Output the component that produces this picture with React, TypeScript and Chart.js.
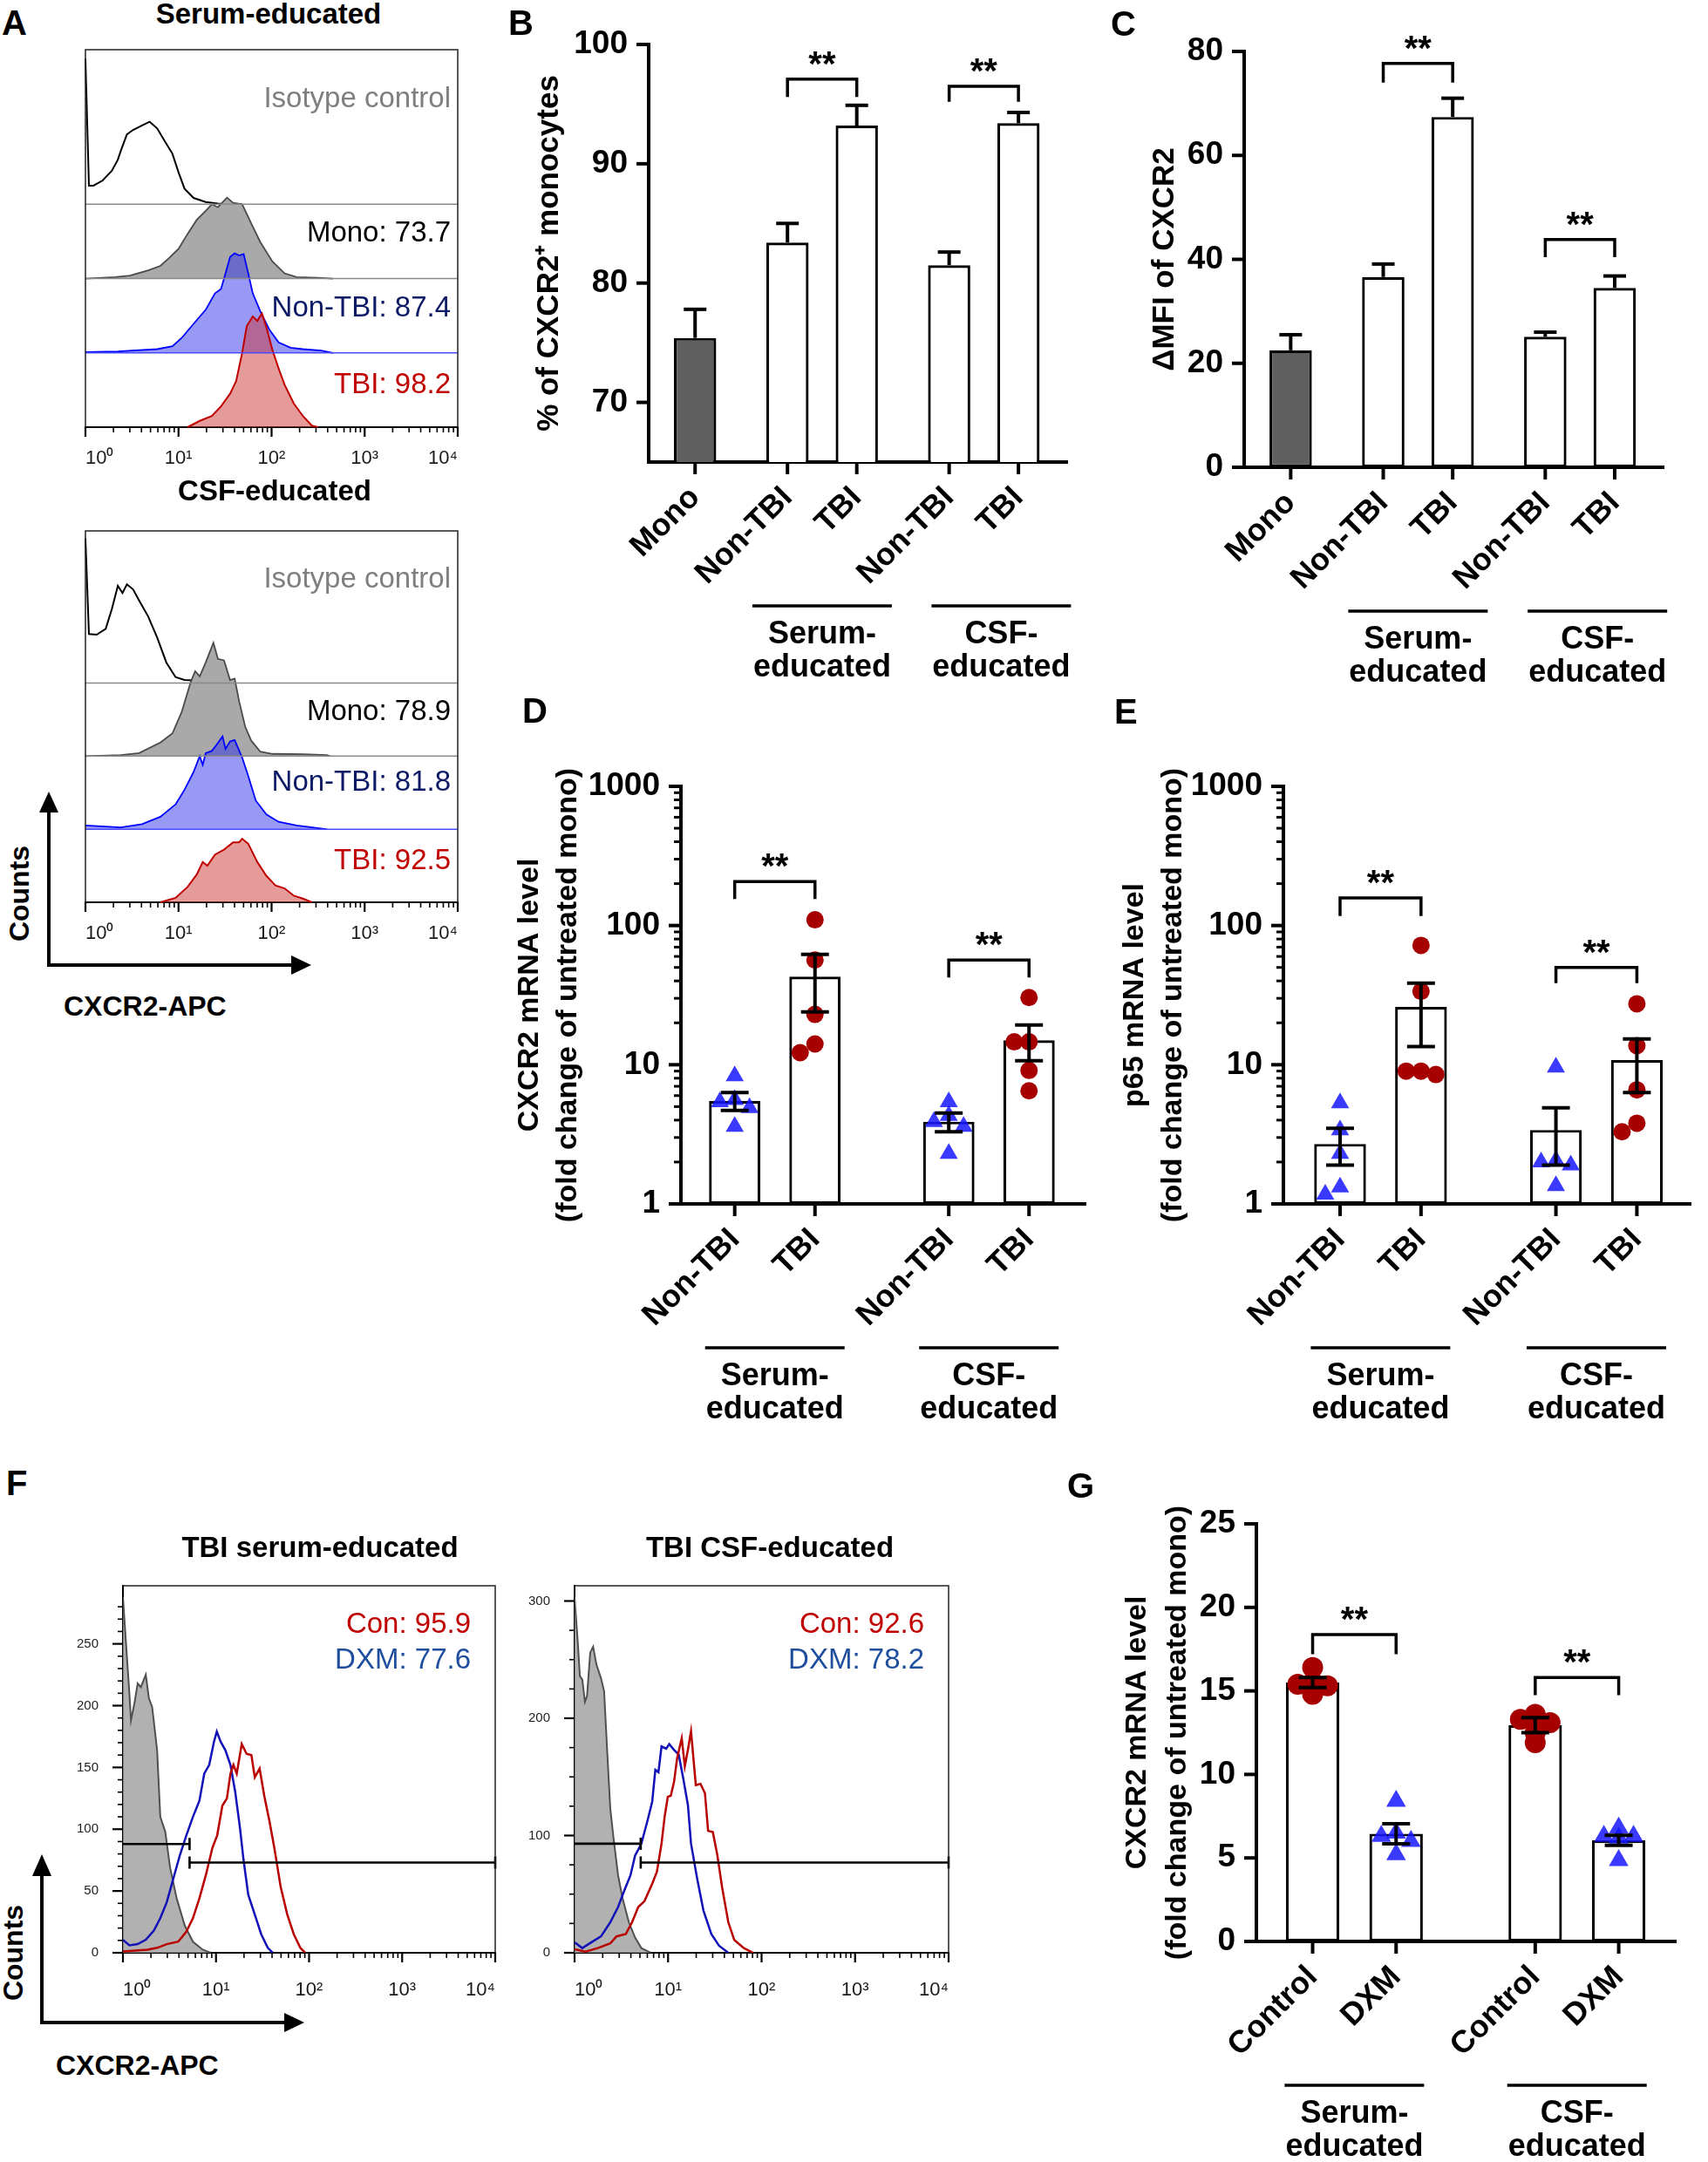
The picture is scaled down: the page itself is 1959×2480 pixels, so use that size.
import React, { useEffect, useRef } from 'react';
import { Chart, registerables } from 'chart.js';

Chart.register(...registerables);

const FONT = "'Liberation Sans', Arial, Helvetica, sans-serif";
Chart.defaults.font.family = FONT;
Chart.defaults.color = '#000';

// ======================= DATA =======================
// Flow axis (CXCR2-APC intensity, log)
const flowTickValues = [1, 2, 3, 4, 5, 6, 7, 8, 9, 10, 20, 30, 40, 50, 60, 70, 80, 90, 100, 200, 300, 400, 500, 600, 700, 800, 900, 1000, 2000, 3000, 4000, 5000, 6000, 7000, 8000, 9000, 10000];
const flowDecades = [1, 10, 100, 1000, 10000];
const flowTickLabels = ['10⁰', '10¹', '10²', '10³', '10⁴'];

// Panel A – serum-educated histograms (counts as % of one row height)
const aSerumIsoX = [1, 1.09, 1.22, 1.53, 1.92, 2.23, 2.4, 2.79, 3.25, 4.06, 4.9, 5.9, 7.1, 8.6, 10, 11.6, 14.5, 19.6, 26.5, 48];
const aSerumIsoY = [196, 25, 25, 32, 45, 60, 72, 94, 100, 106, 111, 102, 85, 68, 43, 21, 8.5, 3, 1, 0];
const aSerumMonoX = [1, 2.07, 3.01, 4.72, 6.38, 7.98, 10, 12.5, 15.7, 19.6, 22.8, 26.5, 33.2, 38.6, 48.3, 60.5, 75.7, 102, 138, 186, 315, 458];
const aSerumMonoY = [0, 2, 4, 11, 17, 28, 40, 60, 79, 91, 100, 96, 109, 102, 100, 74, 49, 23, 7, 2, 1, 0];
const aSerumNonX = [1, 2.23, 5.9, 8.6, 10.8, 14.5, 19.6, 24.6, 28.6, 32, 35.8, 40.1, 44.8, 50.1, 56.1, 62.8, 75.7, 94.9, 119, 160, 217, 340, 458];
const aSerumNonY = [1, 2, 5, 9, 20, 39, 58, 80, 86, 107, 129, 134, 131, 133, 107, 80, 56, 31, 14, 7, 5, 3, 0];
const aSerumTbiX = [12.5, 16.9, 22.8, 28.6, 35.8, 41.6, 48.3, 54.1, 62.8, 70.3, 78.7, 88.1, 102, 119, 138, 173, 217, 271, 315];
const aSerumTbiY = [0, 8.5, 15, 28, 45, 62, 100, 136, 149, 143, 153, 134, 104, 79, 57, 32, 15, 2, 0];
const aSerumLabels = ['Isotype control', 'Mono: 73.7', 'Non-TBI: 87.4', 'TBI: 98.2'];

// Panel A – CSF-educated histograms
const aCsfIsoX = [1, 1.09, 1.32, 1.65, 1.92, 2.23, 2.5, 2.79, 3.25, 3.77, 4.72, 5.9, 7.4, 9.3, 11.6, 19.6, 35.8];
const aCsfIsoY = [198, 67, 66, 74, 101, 133, 123, 135, 128, 113, 91, 62, 28, 8, 4, 3, 0];
const aCsfMonoX = [1, 2.4, 3.77, 6.38, 8.6, 10.8, 13.5, 15.1, 16.9, 19.6, 23.7, 26.5, 30.8, 35.8, 40.1, 44.8, 52.1, 60.5, 75.7, 102, 217, 394, 425];
const aCsfMonoY = [0, 1.5, 4, 18.5, 31, 60, 101, 116, 109, 128, 155, 133, 131, 104, 106, 75, 40, 21, 6, 3, 2.5, 1.5, 0];
const aCsfNonX = [1, 2.4, 4.06, 6.38, 9.3, 11.6, 14.5, 16.9, 18.2, 19.6, 22.8, 25.5, 29.7, 32, 35.8, 40.1, 48.3, 56.1, 67.7, 88.1, 119, 186, 340, 394];
const aCsfNonY = [5, 2.4, 7, 17, 34, 54, 78, 100, 88, 104, 107, 115, 127, 110, 120, 122, 98, 73, 39, 20, 10, 5, 1, 0];
const aCsfTbiX = [6.38, 9.3, 12.5, 15.7, 18.2, 20.4, 24.6, 30.8, 38.6, 44.8, 48.3, 56.1, 70.3, 88.1, 110, 138, 173, 217, 271];
const aCsfTbiY = [0, 6, 21, 38, 55, 50, 65, 72, 82, 82, 87, 80, 55, 36, 23, 19, 9, 5, 0];
const aCsfLabels = ['Isotype control', 'Mono: 78.9', 'Non-TBI: 81.8', 'TBI: 92.5'];

// Panel B – % of CXCR2+ monocytes
const bCategories = ['Mono', 'Non-TBI', 'TBI', 'Non-TBI', 'TBI'];
const bGroups = [0, 1, 1, 2, 2];
const bMeans = [75.4, 83.4, 93.2, 81.5, 93.4];
const bSem = [2.4, 1.6, 1.7, 1.1, 0.9];
const bYTicks = [70, 80, 90, 100];
const bSigPairs = [[1, 2], [3, 4]];
const bSigTop = [97.1, 96.5];
const bSigEnd = [95.6, 95.2];

// Panel C – ΔMFI of CXCR2
const cMeans = [22.5, 36.6, 67.4, 25.1, 34.5];
const cSem = [3.0, 2.5, 3.6, 0.9, 2.3];
const cYTicks = [0, 20, 40, 60, 80];
const cSigTop = [77.7, 43.8];
const cSigEnd = [74.0, 40.4];

// Panels D/E shared
const tbiCategories = ['Non-TBI', 'TBI', 'Non-TBI', 'TBI'];
const pairGroups = [0, 0, 1, 1];
const pairSigPairs = [[0, 1], [2, 3]];
const logTicks = [1, 2, 3, 4, 5, 6, 7, 8, 9, 10, 20, 30, 40, 50, 60, 70, 80, 90, 100, 200, 300, 400, 500, 600, 700, 800, 900, 1000];
const logLabeled = [1, 10, 100, 1000];

// Panel D – CXCR2 mRNA
const dMeans = [5.5, 43, 3.9, 15.0];
const dSem = [0.8, 19, 0.6, 4.3];
const dPoints = [[8.3, 5.6, 5.4, 3.6, 4.9], [110, 56.5, 23, 14.1, 12.2], [5.4, 4.3, 3.9, 3.6, 2.3], [30.4, 14.6, 14.6, 9.1, 6.5]];
const dSigTop = [207, 56.5];
const dSigEnd = [155, 42.4];

// Panel E – p65 mRNA
const eMeans = [2.7, 26, 3.4, 10.8];
const eSem = [0.8, 12.5, 1.5, 4.5];
const ePoints = [[5.3, 3.4, 2.3, 1.32, 1.17], [72, 33.7, 9.0, 9.0, 8.5], [9.6, 2.05, 2.0, 1.9, 1.35], [27.4, 13.7, 6.6, 3.8, 3.3]];
const eSigTop = [158, 50];
const eSigEnd = [117, 38.6];

// Panel F – TBI-educated, control vs DXM
const fSerumGrayX = [1, 1.08, 1.175, 1.22, 1.33, 1.44, 1.56, 1.76, 1.9, 2.06, 2.33, 2.52, 2.85, 3.21, 3.78, 4.62, 5.65, 7.19, 8.79];
const fSerumGrayY = [288, 250, 209, 188, 202, 218, 215, 225, 206, 199, 164, 110, 98, 69, 44, 22, 9, 2.5, 0];
const fSerumBlueX = [1, 1.175, 1.44, 1.76, 2.15, 2.52, 2.96, 3.48, 4.09, 4.8, 5.65, 6.63, 7.48, 8.45, 9.53, 10.2, 11.2, 12.6, 14.3, 16.1, 18.1, 19.7, 22.2, 26.1, 30.6, 36, 40.6];
const fSerumBlueY = [10.5, 6, 7, 10.5, 18, 28, 41, 60, 79, 95, 110, 123, 145, 152, 171, 179, 171, 164, 152, 130, 101, 76, 47, 31, 15, 4, 0];
const fSerumRedX = [1, 1.83, 2.33, 2.96, 3.93, 4.8, 5.65, 6.63, 7.79, 9.15, 10.3, 11.7, 13.1, 14.3, 15.4, 16.7, 18.9, 21.3, 24, 26.1, 29.4, 33.2, 37.4, 42.3, 49.6, 58.3, 68.5, 80.5, 90.8];
const fSerumRedY = [1, 2.5, 4, 7, 9, 17, 28, 44, 63, 85, 95, 119, 125, 145, 152, 145, 169, 161, 160, 142, 149, 126, 107, 85, 53, 31, 15, 4, 0];
const fSerumGateX = [1, 5.2, 10000];
const fSerumGateY = [88, 73];
const fSerumLabels = ['Con: 95.9', 'DXM: 77.6'];

const fCsfGrayX = [1, 1.08, 1.14, 1.21, 1.29, 1.36, 1.47, 1.58, 1.71, 1.92, 2.07, 2.23, 2.41, 2.6, 2.92, 3.27, 3.81, 4.44, 5.18, 6.51];
const fCsfGrayY = [303, 266, 236, 233, 214, 219, 256, 261, 246, 234, 223, 173, 123, 99, 66, 46, 26, 13, 4, 0];
const fCsfBlueX = [1, 1.21, 1.52, 1.92, 2.41, 2.92, 3.4, 3.96, 4.44, 5.18, 6.04, 6.77, 7.31, 7.89, 8.51, 9.55, 10.3, 11.6, 13, 14.5, 16.3, 17.6, 20.5, 23.9, 29, 35.1, 44.1];
const fCsfBlueY = [9, 4, 9, 14, 26, 39, 53, 66, 83, 93, 113, 129, 156, 154, 176, 174, 178, 173, 169, 149, 126, 93, 63, 36, 16, 6, 0];
const fCsfRedX = [1, 1.31, 1.77, 2.41, 2.81, 3.53, 4.12, 4.8, 5.59, 6.77, 7.59, 8.51, 9.19, 9.93, 10.7, 11.6, 12.5, 14, 15.1, 16.3, 17.6, 19.8, 22.2, 24.8, 26.8, 30.1, 33.7, 37.8, 44.1, 51, 64.7, 81.3];
const fCsfRedY = [3, 1, 4, 8, 14, 16, 26, 39, 44, 59, 69, 93, 116, 133, 134, 146, 166, 183, 159, 173, 189, 143, 144, 136, 104, 103, 83, 56, 26, 11, 4, 0];
const fCsfGateX = [1, 5.1, 10000];
const fCsfGateY = [93, 77];
const fCsfLabels = ['Con: 92.6', 'DXM: 78.2'];

// Panel G – CXCR2 mRNA, control vs DXM
const gCategories = ['Control', 'DXM', 'Control', 'DXM'];
const gMeans = [15.5, 6.45, 12.95, 6.05];
const gSem = [0.3, 0.6, 0.45, 0.3];
const gPoints = [[16.4, 15.5, 15.4, 15.3, 14.8], [8.4, 6.5, 6.3, 6.0, 5.2], [13.6, 13.3, 13.1, 12.5, 11.9], [6.8, 6.3, 6.3, 6.2, 4.85]];
const gYTicks = [0, 5, 10, 15, 20, 25];
const gSigTop = [18.37, 15.8];
const gSigEnd = [17.2, 14.75];

const groupNamesMono = [null, ['Serum-', 'educated'], ['CSF-', 'educated']];
const groupNamesPair = [['Serum-', 'educated'], ['CSF-', 'educated']];

// ======================= STYLES / BUILDERS =======================
const TRI = 'rgba(22,22,255,0.85)';
const DOT = '#a60000';

const pts = (xs: number[], ys: number[]) => xs.map((x, i) => ({ x, y: ys[i] }));

function flowXScale(height: number, pad: number) {
  return {
    type: 'logarithmic', position: 'bottom', min: 1, max: 10000,
    afterBuildTicks: (s: any) => { s.ticks = flowTickValues.map((v) => ({ value: v })); },
    afterFit: (s: any) => { s.height = height; },
    grid: { display: false },
    border: { display: true, color: '#000', width: 2 },
    ticks: {
      autoSkip: false, minRotation: 0, maxRotation: 0, align: 'inner', padding: pad, color: '#1a1a1a',
      font: { size: 22 },
      callback: (v: number) => { const k = flowDecades.indexOf(v); return k >= 0 ? flowTickLabels[k] : ''; },
    },
  };
}

function drawLogTicks(ctx: any, xs: any, y: number) {
  xs.ticks.forEach((t: any) => {
    const major = flowDecades.includes(t.value);
    const px = xs.getPixelForValue(t.value);
    ctx.strokeStyle = '#000';
    ctx.lineWidth = major ? 2.2 : 1.6;
    ctx.beginPath(); ctx.moveTo(px, y); ctx.lineTo(px, y + (major ? 11 : 6)); ctx.stroke();
  });
}

function baseOptions(padding: any) {
  return {
    responsive: false, maintainAspectRatio: false, animation: false, devicePixelRatio: 1, events: [],
    layout: { padding },
    plugins: { legend: { display: false }, tooltip: { enabled: false }, title: { display: false } },
  };
}

// ----- Panel A: stacked histograms -----
function flowStackBuild(c: any) {
  const n = c.rows.length;
  const scales: any = { x: flowXScale(c.xH, 15) };
  for (let i = n - 1; i >= 0; i--) {
    const r = c.rows[i];
    scales['y' + i] = {
      type: 'linear', position: 'left', stack: 'rows', stackWeight: r.weight, weight: n - i,
      min: 0, max: 100 * r.weight,
      ticks: { display: false }, grid: { display: false }, border: { display: false },
      afterFit: (s: any) => { s.width = 0; },
    };
  }
  const datasets = c.rows.map((r: any, i: number) => ({
    type: 'line', data: pts(r.x, r.y), yAxisID: 'y' + i, xAxisID: 'x',
    borderColor: r.line, borderWidth: r.width, backgroundColor: r.fill || 'rgba(0,0,0,0)',
    fill: r.fill ? 'origin' : false, pointRadius: 0, tension: 0, order: n - i, clip: false,
  }));
  const decor = {
    id: 'flowStackDecor',
    afterDatasetsDraw(chart: any) {
      const ctx = chart.ctx, ca = chart.chartArea;
      ctx.save();
      c.rows.forEach((r: any, i: number) => {
        if (!r.sep) return;
        const s = chart.scales['y' + i];
        ctx.strokeStyle = r.sep; ctx.lineWidth = 1.5;
        ctx.beginPath(); ctx.moveTo(ca.left, s.bottom); ctx.lineTo(ca.right, s.bottom); ctx.stroke();
      });
      ctx.restore();
    },
    afterDraw(chart: any) {
      const ctx = chart.ctx, ca = chart.chartArea;
      ctx.save();
      ctx.strokeStyle = '#222'; ctx.lineWidth = 1.5;
      ctx.beginPath(); ctx.moveTo(ca.left, ca.bottom); ctx.lineTo(ca.left, ca.top); ctx.lineTo(ca.right, ca.top); ctx.lineTo(ca.right, ca.bottom); ctx.stroke();
      drawLogTicks(ctx, chart.scales.x, ca.bottom);
      ctx.textAlign = 'right'; ctx.textBaseline = 'middle'; ctx.font = `33px ${FONT}`;
      c.rows.forEach((r: any, i: number) => {
        const s = chart.scales['y' + i];
        ctx.fillStyle = r.labelColor;
        ctx.fillText(r.label, ca.right - 8, s.top + r.labelFrac * (s.bottom - s.top));
      });
      ctx.restore();
    },
  };
  return {
    config: {
      type: 'line',
      data: { datasets },
      options: { ...baseOptions({ left: c.area.left, top: c.area.top, right: c.size.w - c.area.right, bottom: 0 }), scales },
      plugins: [decor],
    },
  };
}

function aRows(iso: any[], mono: any[], non: any[], tbi: any[], labels: string[], fracs: number[]) {
  return [
    { x: iso[0], y: iso[1], line: '#000', fill: false, width: 2, label: labels[0], labelColor: '#7f7f7f', labelFrac: fracs[0], sep: '#8a8a8a', weight: 2.08 },
    { x: mono[0], y: mono[1], line: '#4a4a4a', fill: '#a9a9a9', width: 1.8, label: labels[1], labelColor: '#000', labelFrac: fracs[1], sep: '#8a8a8a', weight: 1 },
    { x: non[0], y: non[1], line: '#0000ff', fill: 'rgba(40,40,235,0.48)', width: 1.8, label: labels[2], labelColor: '#0c1a66', labelFrac: fracs[2], sep: '#4a4aff', weight: 1 },
    { x: tbi[0], y: tbi[1], line: '#c00000', fill: 'rgba(205,55,55,0.5)', width: 2, label: labels[3], labelColor: '#c00000', labelFrac: fracs[3], sep: null, weight: 1 },
  ];
}

// ----- Panel F: overlay histograms -----
function flowOverlayBuild(c: any) {
  const datasets = [
    { type: 'line', data: pts(c.gray[0], c.gray[1]), borderColor: '#505050', borderWidth: 2, backgroundColor: 'rgba(158,158,158,0.8)', fill: 'origin', pointRadius: 0, order: 5 },
    { type: 'line', data: pts(c.blue[0], c.blue[1]), borderColor: '#1212b8', borderWidth: 2.5, fill: false, pointRadius: 0, order: 4 },
    { type: 'line', data: pts(c.red[0], c.red[1]), borderColor: '#b80000', borderWidth: 2.5, fill: false, pointRadius: 0, order: 3 },
    {
      type: 'line', data: [{ x: c.gateX[0], y: c.gateY[0] }, { x: c.gateX[1], y: c.gateY[0] }],
      borderColor: '#000', borderWidth: 2.6, pointStyle: 'line', rotation: 90, pointRadius: [0, 7], pointBorderColor: '#000', pointBorderWidth: 2.6, clip: false, order: 1,
    },
    {
      type: 'line', data: [{ x: c.gateX[1], y: c.gateY[1] }, { x: c.gateX[2], y: c.gateY[1] }],
      borderColor: '#000', borderWidth: 2.6, pointStyle: 'line', rotation: 90, pointRadius: [7, 7], pointBorderColor: '#000', pointBorderWidth: 2.6, clip: false, order: 1,
    },
  ];
  const scales: any = {
    x: flowXScale(c.xH, 22),
    y: {
      type: 'linear', position: 'left', min: 0, max: c.yMax,
      afterFit: (s: any) => { s.width = c.area.left; },
      grid: { display: false }, border: { display: true, color: '#000', width: 2 },
      ticks: {
        autoSkip: false, stepSize: c.yStep, padding: 20, color: '#222', font: { size: 15 },
        callback: (v: number) => (v % c.yLabelStep === 0 ? String(v) : ''),
      },
    },
  };
  const decor = {
    id: 'flowOverlayDecor',
    afterDraw(chart: any) {
      const ctx = chart.ctx, ca = chart.chartArea, ys = chart.scales.y;
      ctx.save();
      ctx.strokeStyle = '#222'; ctx.lineWidth = 1.5;
      ctx.beginPath(); ctx.moveTo(ca.left, ca.top); ctx.lineTo(ca.right, ca.top); ctx.lineTo(ca.right, ca.bottom); ctx.stroke();
      drawLogTicks(ctx, chart.scales.x, ca.bottom);
      ys.ticks.forEach((t: any) => {
        if (t.value % c.yStep !== 0) return;
        const major = t.value % c.yLabelStep === 0;
        const py = ys.getPixelForValue(t.value);
        ctx.strokeStyle = '#000'; ctx.lineWidth = major ? 2.2 : 1.6;
        ctx.beginPath(); ctx.moveTo(ca.left, py); ctx.lineTo(ca.left - (major ? 12 : 6), py); ctx.stroke();
      });
      ctx.textAlign = 'right'; ctx.textBaseline = 'middle'; ctx.font = `33px ${FONT}`;
      ctx.fillStyle = '#c00000'; ctx.fillText(c.labels[0], ca.right - 28, ca.top + 45);
      ctx.fillStyle = '#1f4e9e'; ctx.fillText(c.labels[1], ca.right - 28, ca.top + 86);
      ctx.restore();
    },
  };
  return {
    config: {
      type: 'line',
      data: { datasets },
      options: { ...baseOptions({ left: 0, top: c.area.top, right: c.size.w - c.area.right, bottom: 0 }), scales },
      plugins: [decor],
    },
  };
}

// ----- Bar panels (B, C, D, E, G) -----
function barBuild(sp: any) {
  const pos = sp.groups.map((g: number, i: number) => i + g * sp.gap);
  const datasets: any[] = [];
  datasets.push({
    type: 'bar', data: pos.map((x: number, i: number) => ({ x, y: sp.means[i] })),
    backgroundColor: sp.barColors, borderColor: '#000', borderWidth: 3.2, borderSkipped: false,
    barPercentage: sp.barFrac, categoryPercentage: 1, order: 10,
  });
  const pointIdx: number[] = [];
  if (sp.points) {
    sp.points.forEach((vals: number[], i: number) => {
      pointIdx.push(datasets.length);
      const tri = sp.kinds[i] === 'tri';
      datasets.push({
        type: 'line', showLine: false, data: vals.map((v) => ({ x: pos[i], y: v })),
        pointStyle: tri ? 'triangle' : 'circle', pointRadius: tri ? sp.triR : sp.dotR,
        pointBackgroundColor: tri ? TRI : DOT, pointBorderWidth: 0, borderWidth: 0, order: 5,
      });
    });
  }
  sp.means.forEach((m: number, i: number) => {
    const s = sp.sems[i];
    datasets.push({
      type: 'line',
      data: sp.errDown ? [{ x: pos[i], y: m - s }, { x: pos[i], y: m + s }] : [{ x: pos[i], y: m }, { x: pos[i], y: m + s }],
      borderColor: '#000', borderWidth: 4, pointStyle: 'line',
      pointRadius: sp.errDown ? [sp.capR, sp.capR] : [0, sp.capR], pointBorderColor: '#000', pointBorderWidth: 4, order: 2,
    });
  });
  sp.sigPairs.forEach((pr: number[], k: number) => {
    const [a, b] = pr;
    datasets.push({
      type: 'line',
      data: [{ x: pos[a], y: sp.sigEnd[k] }, { x: pos[a], y: sp.sigTop[k] }, { x: pos[b], y: sp.sigTop[k] }, { x: pos[b], y: sp.sigEnd[k] }],
      borderColor: '#000', borderWidth: 3.5, pointRadius: 0, order: 1,
    });
  });

  const scales: any = {
    x: {
      type: 'linear', min: sp.xMin, max: sp.xMax, offset: false,
      afterBuildTicks: (s: any) => { s.ticks = pos.map((v: number) => ({ value: v })); },
      afterFit: (s: any) => { s.height = sp.size.h - sp.area.bottom; },
      grid: { display: false, offset: false }, border: { display: true, color: '#000', width: 4 },
      ticks: {
        autoSkip: false, minRotation: 45, maxRotation: 45, padding: 12, color: '#000',
        font: { size: 36, weight: 'bold' },
        callback: (_v: number, i: number) => sp.categories[i],
      },
    },
    y: {
      type: sp.yType, min: sp.yMin, max: sp.yMax,
      afterBuildTicks: (s: any) => { s.ticks = sp.yTicks.map((v: number) => ({ value: v })); },
      afterFit: (s: any) => { s.width = sp.area.left; },
      grid: { display: false }, border: { display: true, color: '#000', width: 4 },
      ticks: {
        autoSkip: false, padding: 16, color: '#000', font: { size: 37, weight: 'bold' },
        callback: (v: number) => (sp.yLabeled.includes(v) ? String(v) : ''),
      },
    },
  };

  const decor = {
    id: 'barDecor',
    afterDraw(chart: any) {
      const ctx = chart.ctx, ca = chart.chartArea, xs = chart.scales.x, ys = chart.scales.y;
      ctx.save();
      ctx.strokeStyle = '#000'; ctx.fillStyle = '#000'; ctx.lineCap = 'butt';
      ys.ticks.forEach((t: any) => {
        const major = sp.yLabeled.includes(t.value);
        const py = ys.getPixelForValue(t.value);
        ctx.lineWidth = major ? 4 : 3;
        ctx.beginPath(); ctx.moveTo(ca.left, py); ctx.lineTo(ca.left - (major ? 14 : 8), py); ctx.stroke();
      });
      ctx.lineWidth = 4;
      pos.forEach((p: number) => {
        const px = xs.getPixelForValue(p);
        ctx.beginPath(); ctx.moveTo(px, ca.bottom); ctx.lineTo(px, ca.bottom + 14); ctx.stroke();
      });
      ctx.font = `bold 36px ${FONT}`; ctx.textAlign = 'center'; ctx.textBaseline = 'middle';
      sp.groupNames.forEach((names: string[] | null, g: number) => {
        if (!names) return;
        const idx = sp.groups.map((gg: number, i: number) => (gg === g ? i : -1)).filter((i: number) => i >= 0);
        const cx = idx.reduce((s: number, i: number) => s + xs.getPixelForValue(pos[i]), 0) / idx.length + (sp.groupShift ? sp.groupShift[g] : 0);
        ctx.lineWidth = 3.5;
        ctx.beginPath(); ctx.moveTo(cx - 80, ca.bottom + 165); ctx.lineTo(cx + 80, ca.bottom + 165); ctx.stroke();
        ctx.fillText(names[0], cx, ca.bottom + 198);
        ctx.fillText(names[1], cx, ca.bottom + 236);
      });
      ctx.font = `bold 40px ${FONT}`; ctx.textBaseline = 'alphabetic';
      sp.sigPairs.forEach((pr: number[], k: number) => {
        const cx = (xs.getPixelForValue(pos[pr[0]]) + xs.getPixelForValue(pos[pr[1]])) / 2;
        ctx.fillText('**', cx, ys.getPixelForValue(sp.sigTop[k]) - 4);
      });
      ctx.font = `bold ${sp.yTitleSize}px ${FONT}`; ctx.textBaseline = 'middle';
      const cy = (ca.top + ca.bottom) / 2;
      sp.yTitle.forEach((line: string, k: number) => {
        ctx.save(); ctx.translate(ca.left - sp.yTitleOffsets[k], cy); ctx.rotate(-Math.PI / 2);
        ctx.fillText(line, 0, 0); ctx.restore();
      });
      ctx.restore();
    },
  };

  // Prism-like scatter arrangement: points sorted top-down, nudged sideways when they collide.
  const after = (chart: any) => {
    if (!sp.points) return;
    const xs = chart.scales.x, ys = chart.scales.y;
    pointIdx.forEach((di: number, i: number) => {
      const vals: number[] = sp.points[i];
      const cx = xs.getPixelForValue(pos[i]);
      const py = vals.map((v) => ys.getPixelForValue(v));
      const order = vals.map((_v, k) => k).sort((a, b) => py[a] - py[b]);
      const placed: { x: number; y: number }[] = [];
      const out: number[] = vals.map(() => pos[i]);
      order.forEach((k) => {
        for (const c of [0, -1, 1, -2, 2, -3, 3]) {
          const px = cx + c * sp.swarmStep;
          if (placed.every((p) => Math.hypot(p.x - px, p.y - py[k]) >= sp.swarmThr)) {
            placed.push({ x: px, y: py[k] });
            out[k] = xs.getValueForPixel(px);
            return;
          }
        }
      });
      chart.data.datasets[di].data = vals.map((v, k) => ({ x: out[k], y: v }));
    });
    chart.update('none');
  };

  return {
    config: {
      type: 'bar',
      data: { datasets },
      options: { ...baseOptions({ left: 0, top: sp.area.top, right: sp.size.w - sp.area.right, bottom: 0 }), scales },
      plugins: [decor],
    },
    after,
  };
}

// ======================= COMPONENTS =======================
function ChartCanvas({ x, y, w, h, build }: any) {
  const ref = useRef<HTMLCanvasElement | null>(null);
  useEffect(() => {
    const { config, after } = build();
    const chart = new Chart(ref.current as HTMLCanvasElement, config as any);
    if (after) after(chart);
    return () => { chart.destroy(); };
  }, []);
  return <canvas ref={ref} width={w} height={h} style={{ position: 'absolute', left: x, top: y, width: w, height: h }} />;
}

function Txt({ x, y, size, bold = true, color = '#000', align = 'left', rotate = false, children }: any) {
  const tx = align === 'center' ? '-50%' : align === 'right' ? '-100%' : '0';
  const style: any = {
    position: 'absolute', left: x, top: y - size / 2, fontSize: size, lineHeight: `${size}px`,
    fontWeight: bold ? 700 : 400, color, whiteSpace: 'nowrap', fontFamily: FONT,
    transform: `translateX(${tx})`,
  };
  if (rotate) {
    style.top = y;
    style.transform = 'translate(-50%, -50%) rotate(-90deg)';
  }
  return <div style={style}>{children}</div>;
}

export default function App() {
  const buildASerum = () => flowStackBuild({
    rows: aRows([aSerumIsoX, aSerumIsoY], [aSerumMonoX, aSerumMonoY], [aSerumNonX, aSerumNonY], [aSerumTbiX, aSerumTbiY], aSerumLabels, [0.32, 0.4, 0.4, 0.44]),
    area: { left: 38, top: 17, right: 465 }, size: { w: 490, h: 510 }, xH: 60,
  });
  const buildACsf = () => flowStackBuild({
    rows: aRows([aCsfIsoX, aCsfIsoY], [aCsfMonoX, aCsfMonoY], [aCsfNonX, aCsfNonY], [aCsfTbiX, aCsfTbiY], aCsfLabels, [0.32, 0.4, 0.37, 0.44]),
    area: { left: 38, top: 17, right: 465 }, size: { w: 490, h: 510 }, xH: 67,
  });
  const monoCommon = {
    categories: bCategories, groups: bGroups, gap: 1 / 3, errDown: false,
    barColors: ['#5f5f5f', '#fff', '#fff', '#fff', '#fff'], xMin: -0.67, xMax: 5.37, barFrac: 0.61, capR: 13,
    sigPairs: bSigPairs, groupNames: groupNamesMono, groupShift: [0, 0, 20], yTitleSize: 35, yType: 'linear',
  };
  const buildB = () => barBuild({
    ...monoCommon, means: bMeans, sems: bSem, yMin: 65, yMax: 100, yTicks: bYTicks, yLabeled: bYTicks,
    sigTop: bSigTop, sigEnd: bSigEnd, yTitle: ['% of CXCR2⁺ monocytes'], yTitleOffsets: [114],
    area: { left: 184, top: 51, right: 664, bottom: 530 }, size: { w: 730, h: 800 },
  });
  const buildC = () => barBuild({
    ...monoCommon, means: cMeans, sems: cSem, yMin: 0, yMax: 80, yTicks: cYTicks, yLabeled: cYTicks,
    sigTop: cSigTop, sigEnd: cSigEnd, yTitle: ['ΔMFI of CXCR2'], yTitleOffsets: [91],
    area: { left: 167, top: 59, right: 648, bottom: 536 }, size: { w: 699, h: 800 },
  });
  const pairCommon = {
    groups: pairGroups, gap: 2 / 3, errDown: true, barColors: ['#fff', '#fff', '#fff', '#fff'],
    barFrac: 0.64, capR: 16, sigPairs: pairSigPairs, groupNames: groupNamesPair,
    yTitleSize: 34, swarmStep: 17, swarmThr: 14,
  };
  const buildD = () => barBuild({
    ...pairCommon, categories: tbiCategories, means: dMeans, sems: dSem, points: dPoints, kinds: ['tri', 'dot', 'tri', 'dot'], triR: 12, dotR: 10,
    yType: 'logarithmic', yMin: 1, yMax: 1000, yTicks: logTicks, yLabeled: logLabeled,
    xMin: -0.67, xMax: 4.37, sigTop: dSigTop, sigEnd: dSigEnd,
    yTitle: ['CXCR2 mRNA level', '(fold change of untreated mono)'], yTitleOffsets: [173, 129],
    area: { left: 221, top: 102, right: 702, bottom: 581 }, size: { w: 705, h: 860 },
  });
  const buildE = () => barBuild({
    ...pairCommon, categories: tbiCategories, means: eMeans, sems: eSem, points: ePoints, kinds: ['tri', 'dot', 'tri', 'dot'], triR: 12, dotR: 10,
    yType: 'logarithmic', yMin: 1, yMax: 1000, yTicks: logTicks, yLabeled: logLabeled,
    xMin: -0.7, xMax: 4.33, sigTop: eSigTop, sigEnd: eSigEnd,
    yTitle: ['p65 mRNA level', '(fold change of untreated mono)'], yTitleOffsets: [170, 126],
    area: { left: 207, top: 102, right: 690, bottom: 581 }, size: { w: 694, h: 860 },
  });
  const buildG = () => barBuild({
    ...pairCommon, swarmThr: 11, categories: gCategories, means: gMeans, sems: gSem, points: gPoints, kinds: ['dot', 'tri', 'dot', 'tri'], triR: 13, dotR: 12,
    yType: 'linear', yMin: 0, yMax: 25, yTicks: gYTicks, yLabeled: gYTicks,
    xMin: -0.674, xMax: 4.35, sigTop: gSigTop, sigEnd: gSigEnd,
    yTitle: ['CXCR2 mRNA level', '(fold change of untreated mono)'], yTitleOffsets: [136, 90],
    area: { left: 241, top: 68, right: 722, bottom: 547 }, size: { w: 759, h: 800 },
  });
  const buildFSerum = () => flowOverlayBuild({
    gray: [fSerumGrayX, fSerumGrayY], blue: [fSerumBlueX, fSerumBlueY], red: [fSerumRedX, fSerumRedY],
    gateX: fSerumGateX, gateY: fSerumGateY, labels: fSerumLabels, yMax: 297, yStep: 10, yLabelStep: 50,
    area: { left: 81, top: 19, right: 517 }, size: { w: 530, h: 540 }, xH: 90,
  });
  const buildFCsf = () => flowOverlayBuild({
    gray: [fCsfGrayX, fCsfGrayY], blue: [fCsfBlueX, fCsfBlueY], red: [fCsfRedX, fCsfRedY],
    gateX: fCsfGateX, gateY: fCsfGateY, labels: fCsfLabels, yMax: 313, yStep: 25, yLabelStep: 100,
    area: { left: 69, top: 19, right: 504 }, size: { w: 520, h: 540 }, xH: 90,
  });

  return (
    <div style={{ position: 'absolute', left: 0, top: 0, width: 1959, height: 2480, background: '#fff', overflow: 'hidden', fontFamily: FONT }}>
      <ChartCanvas x={60} y={40} w={490} h={510} build={buildASerum} />
      <ChartCanvas x={60} y={592} w={490} h={510} build={buildACsf} />
      <ChartCanvas x={560} y={0} w={730} h={800} build={buildB} />
      <ChartCanvas x={1260} y={0} w={699} h={800} build={buildC} />
      <ChartCanvas x={560} y={800} w={705} h={860} build={buildD} />
      <ChartCanvas x={1265} y={800} w={694} h={860} build={buildE} />
      <ChartCanvas x={60} y={1790} w={530} h={540} build={buildFSerum} />
      <ChartCanvas x={590} y={1790} w={520} h={540} build={buildFCsf} />
      <ChartCanvas x={1200} y={1680} w={759} h={800} build={buildG} />

      <Txt x={2} y={26} size={40}>A</Txt>
      <Txt x={583} y={26} size={40}>B</Txt>
      <Txt x={1274} y={27} size={40}>C</Txt>
      <Txt x={599} y={815} size={40}>D</Txt>
      <Txt x={1278} y={816} size={40}>E</Txt>
      <Txt x={7} y={1701} size={40}>F</Txt>
      <Txt x={1224} y={1704} size={40}>G</Txt>

      <Txt x={308} y={15} size={33} align="center">Serum-educated</Txt>
      <Txt x={315} y={562} size={33} align="center">CSF-educated</Txt>
      <Txt x={22} y={1025} size={32} rotate>Counts</Txt>
      <Txt x={73} y={1154} size={32}>CXCR2-APC</Txt>

      <Txt x={367} y={1774} size={33} align="center">TBI serum-educated</Txt>
      <Txt x={883} y={1774} size={33} align="center">TBI CSF-educated</Txt>
      <Txt x={15} y={2240} size={32} rotate>Counts</Txt>
      <Txt x={64} y={2369} size={32}>CXCR2-APC</Txt>

      <svg width={1959} height={2480} style={{ position: 'absolute', left: 0, top: 0, pointerEvents: 'none' }}>
        <line x1={56} y1={1109} x2={56} y2={930} stroke="#000" strokeWidth={4} />
        <polygon points="45,932 67,932 56,908" fill="#000" />
        <line x1={54} y1={1107} x2={336} y2={1107} stroke="#000" strokeWidth={4} />
        <polygon points="334,1096 334,1118 357,1107" fill="#000" />
        <line x1={48} y1={2322} x2={48} y2={2150} stroke="#000" strokeWidth={4} />
        <polygon points="37,2152 59,2152 48,2127" fill="#000" />
        <line x1={46} y1={2320} x2={328} y2={2320} stroke="#000" strokeWidth={4} />
        <polygon points="326,2309 326,2331 349,2320" fill="#000" />
      </svg>
    </div>
  );
}
